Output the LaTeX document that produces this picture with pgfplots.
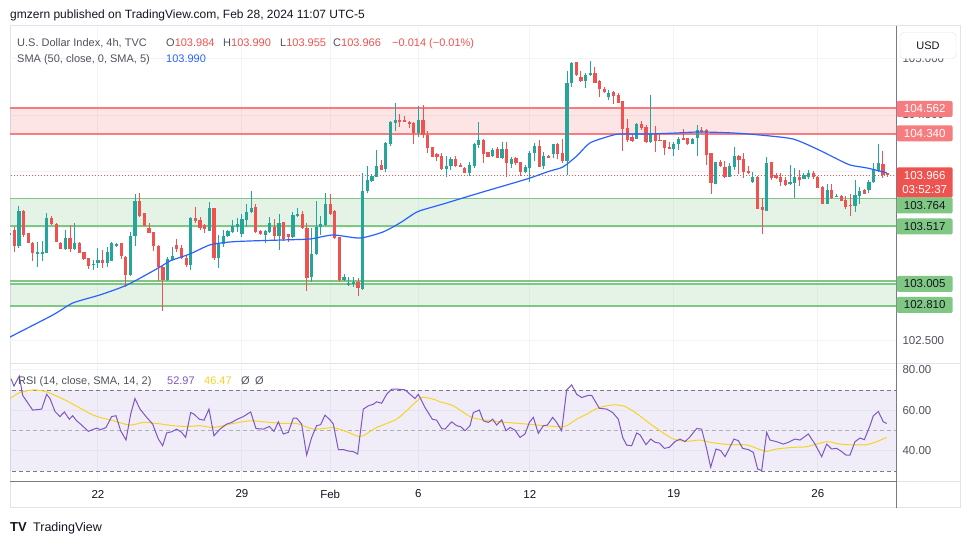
\documentclass[border=0pt]{standalone}
\usepackage{fontspec}
\setmainfont{Liberation Sans}
\usepackage{pgfplots}
\usepackage{pgfplotstable}
\pgfplotsset{compat=1.18}

\definecolor{upc}{HTML}{26A69A}
\definecolor{dnc}{HTML}{EF5350}
\definecolor{smac}{HTML}{2962FF}
\definecolor{rsic}{HTML}{7E57C2}
\definecolor{rsima}{HTML}{F5D426}
\definecolor{gridc}{HTML}{F0F3FA}
\definecolor{framec}{HTML}{E0E3EB}
\definecolor{axisc}{HTML}{787B86}
\definecolor{txt}{HTML}{131722}
\definecolor{legc}{HTML}{50535E}
\definecolor{redline}{HTML}{F77C80}
\definecolor{grnline}{HTML}{81C784}

% 4h candles, index 0 = first full candle on the left
\pgfplotstableread{
i o h l c
-1 103.438 103.576 103.394 103.453
0 103.482 103.512 103.290 103.343
1 103.343 103.697 103.326 103.650
2 103.650 103.659 103.423 103.438
3 103.453 103.460 103.364 103.370
4 103.370 103.375 103.211 103.276
5 103.276 103.379 103.152 103.287
6 103.276 103.387 103.211 103.290
7 103.281 103.630 103.275 103.591
8 103.591 103.609 103.526 103.532
9 103.535 103.545 103.379 103.379
10 103.370 103.374 103.310 103.317
11 103.317 103.482 103.305 103.408
12 103.408 103.526 103.290 103.317
13 103.311 103.544 103.305 103.370
14 103.370 103.372 103.278 103.281
15 103.290 103.292 103.222 103.225
16 103.231 103.232 103.134 103.163
17 103.172 103.217 103.128 103.187
18 103.187 103.320 103.143 103.217
19 103.217 103.305 103.143 103.187
20 103.187 103.335 103.158 103.290
21 103.211 103.372 103.208 103.364
22 103.340 103.365 103.330 103.358
23 103.364 103.366 103.230 103.252
24 103.246 103.250 102.981 103.084
25 103.084 103.467 103.075 103.429
26 103.429 103.801 103.343 103.739
27 103.739 103.815 103.600 103.609
28 103.630 103.632 103.518 103.520
29 103.506 103.541 103.453 103.458
30 103.467 103.468 103.296 103.343
31 103.343 103.345 103.031 103.158
32 103.158 103.170 102.768 103.040
33 103.040 103.246 103.034 103.231
34 103.222 103.335 103.217 103.252
35 103.350 103.400 103.290 103.311
36 103.320 103.350 103.225 103.231
37 103.231 103.261 103.152 103.172
38 103.172 103.594 103.128 103.591
39 103.585 103.689 103.541 103.565
40 103.571 103.600 103.482 103.497
41 103.526 103.535 103.453 103.491
42 103.473 103.733 103.470 103.680
43 103.680 103.682 103.217 103.237
44 103.237 103.438 103.149 103.364
45 103.364 103.488 103.335 103.429
46 103.429 103.482 103.423 103.473
47 103.467 103.571 103.458 103.518
48 103.512 103.585 103.467 103.535
49 103.447 103.624 103.423 103.582
50 103.571 103.712 103.512 103.641
51 103.638 103.830 103.630 103.674
52 103.683 103.712 103.453 103.467
53 103.476 103.480 103.438 103.447
54 103.435 103.482 103.370 103.473
55 103.467 103.600 103.458 103.547
56 103.512 103.585 103.394 103.429
57 103.429 103.621 103.305 103.541
58 103.556 103.557 103.388 103.400
59 103.447 103.448 103.379 103.423
60 103.417 103.644 103.408 103.615
61 103.609 103.680 103.600 103.621
62 103.621 103.653 103.491 103.497
63 103.497 103.541 102.945 103.055
64 103.069 103.497 103.025 103.270
65 103.270 103.739 103.261 103.512
66 103.506 103.606 103.438 103.535
67 103.526 103.813 103.518 103.712
68 103.712 103.801 103.615 103.624
69 103.650 103.659 103.408 103.414
70 103.423 103.425 103.025 103.040
71 103.040 103.093 103.034 103.069
72 102.992 103.063 102.986 103.016
73 103.010 103.069 102.975 103.022
74 103.025 103.054 102.898 102.966
75 102.957 103.984 102.951 103.827
76 103.827 104.048 103.815 103.925
77 103.919 103.978 103.910 103.960
78 103.954 104.190 103.953 104.051
79 104.057 104.107 104.013 104.013
80 104.025 104.261 103.992 104.249
81 104.240 104.450 104.228 104.441
82 104.426 104.609 104.361 104.456
83 104.456 104.509 104.397 104.447
84 104.456 104.491 104.440 104.447
85 104.441 104.450 104.382 104.420
86 104.432 104.441 104.243 104.338
87 104.338 104.580 104.302 104.456
88 104.456 104.588 104.293 104.323
89 104.323 104.358 104.167 104.211
90 104.214 104.220 104.125 104.131
91 104.155 104.161 104.093 104.131
92 104.137 104.161 104.013 104.019
93 104.019 104.137 103.948 104.051
94 104.048 104.125 104.013 104.110
95 104.110 104.137 104.037 104.051
96 104.057 104.072 104.043 104.048
97 104.034 104.043 103.984 103.990
98 103.990 104.087 103.963 104.057
99 104.051 104.249 104.028 104.243
100 104.234 104.441 104.211 104.279
101 104.279 104.284 104.078 104.155
102 104.170 104.175 104.125 104.131
103 104.137 104.205 104.131 104.190
104 104.196 104.214 104.116 104.122
105 104.122 104.258 104.110 104.199
106 104.199 104.258 103.954 104.072
107 104.066 104.131 104.028 104.110
108 104.122 104.131 104.057 104.078
109 104.081 104.087 103.963 103.998
110 103.998 104.057 103.990 104.043
111 104.028 104.184 103.904 104.161
112 104.161 104.249 104.096 104.225
113 104.225 104.279 104.037 104.043
114 104.048 104.175 104.022 104.137
115 104.137 104.146 104.116 104.128
116 104.161 104.243 104.122 104.243
117 104.243 104.249 104.110 104.155
118 104.166 104.284 104.072 104.093
119 104.093 104.889 103.969 104.780
120 104.780 104.972 104.745 104.957
121 104.966 104.968 104.848 104.854
122 104.839 104.892 104.795 104.801
123 104.801 104.869 104.742 104.854
124 104.860 104.978 104.845 104.869
125 104.869 104.922 104.780 104.786
126 104.801 104.810 104.662 104.727
127 104.730 104.751 104.700 104.703
128 104.656 104.721 104.638 104.700
129 104.706 104.715 104.597 104.671
130 104.677 104.697 104.603 104.609
131 104.624 104.625 104.181 104.376
132 104.382 104.464 104.264 104.284
133 104.308 104.323 104.264 104.270
134 104.287 104.426 104.284 104.420
135 104.420 104.447 104.367 104.382
136 104.391 104.411 104.255 104.264
137 104.264 104.677 104.258 104.338
138 104.338 104.402 104.175 104.273
139 104.279 104.323 104.270 104.273
140 104.279 104.284 104.146 104.211
141 104.220 104.258 104.196 104.199
142 104.199 104.258 104.140 104.240
143 104.240 104.302 104.190 104.287
144 104.299 104.376 104.279 104.287
145 104.293 104.299 104.234 104.240
146 104.243 104.293 104.240 104.287
147 104.302 104.411 104.137 104.367
148 104.367 104.397 104.346 104.352
149 104.367 104.376 104.057 104.146
150 104.161 104.162 103.801 103.901
151 103.889 104.087 103.889 104.081
152 104.087 104.102 104.043 104.048
153 104.043 104.093 103.948 103.954
154 103.954 104.072 103.948 104.048
155 104.043 104.214 104.013 104.137
156 104.137 104.146 103.978 104.102
157 104.110 104.169 103.945 103.998
158 104.004 104.048 103.978 103.984
159 103.910 103.992 103.901 103.954
160 103.954 103.956 103.668 103.668
161 103.689 103.763 103.444 103.659
162 103.653 104.131 103.650 104.078
163 104.087 104.088 103.925 103.948
164 103.969 103.990 103.933 103.939
165 103.954 103.984 103.872 103.904
166 103.925 103.954 103.872 103.880
167 103.889 104.057 103.886 103.904
168 103.904 104.028 103.768 103.951
169 103.954 104.013 103.872 103.925
170 103.933 103.984 103.930 103.966
171 103.954 104.013 103.933 103.992
172 103.992 104.004 103.939 103.948
173 103.954 103.960 103.857 103.857
174 103.866 103.872 103.712 103.712
175 103.712 103.895 103.712 103.836
176 103.836 103.886 103.756 103.768
177 103.777 103.801 103.777 103.786
178 103.786 103.792 103.742 103.742
179 103.748 103.786 103.665 103.689
180 103.703 103.801 103.609 103.697
181 103.697 103.925 103.644 103.792
182 103.786 103.866 103.712 103.827
183 103.836 103.842 103.801 103.801
184 103.836 103.925 103.813 103.904
185 103.904 104.078 103.901 104.022
186 104.007 104.240 103.998 104.072
187 104.072 104.181 103.948 103.969
188 103.984 103.990 103.955 103.966
}\candles

\tikzset{
  lg/.style={anchor=base west, inner sep=0pt, font=\fontsize{11}{13}\selectfont, text=legc},
  pbox/.style={anchor=west, minimum width=56pt, minimum height=16pt, inner sep=0pt,
    rounded corners=2pt, font=\fontsize{11.5}{13.5}\selectfont},
}
\pgfplotsset{
  candle/.style n args={2}{draw=none, mark=none, forget plot,
    error bars/.cd, y dir=both, y explicit, error mark=none,
    error bar style={draw=#1, line width=#2, line cap=butt}},
}

\begin{document}
\begin{tikzpicture}
\fill[white] (0pt,0pt) rectangle (970pt,545pt);
\draw[framec, line width=1pt] (10pt,519pt) rectangle (960pt,37pt);

% ---------- price pane ----------
\begin{axis}[
    at={(10pt,182pt)}, anchor=south west, scale only axis,
    width=886pt, height=336pt,
    xmin=-0.926, xmax=189.82, ymin=102.305, ymax=105.279,
    axis line style={draw=none},
    major tick length=0pt,
    xtick={18,49,68,87,111,142,173}, xticklabels={},
    ytick={102.5,103,103.5,104,104.5,105},
    yticklabels={102.500,,,,104.500,105.000},
    yticklabel pos=right,
    yticklabel style={anchor=west, xshift=3pt, font=\fontsize{11.5}{13}\selectfont, text=legc},
    grid=major, grid style={gridc, line width=1pt},
]
% zones
\addplot[draw=none, fill=dnc, fill opacity=0.15] coordinates {(-2,104.340) (192,104.340) (192,104.562) (-2,104.562)} -- cycle;
\addplot[draw=none, fill=grnline, fill opacity=0.2] coordinates {(-2,103.517) (192,103.517) (192,103.764) (-2,103.764)} -- cycle;
\addplot[draw=none, fill=grnline, fill opacity=0.2] coordinates {(-2,102.810) (192,102.810) (192,103.005) (-2,103.005)} -- cycle;
\addplot[redline, line width=2pt] coordinates {(-2,104.562) (192,104.562)};
\addplot[redline, line width=1pt] coordinates {(-2,104.340) (192,104.340)};
\addplot[redline, line width=1pt] coordinates {(-2,104.323) (192,104.323)};
\addplot[grnline, line width=1.2pt] coordinates {(-2,103.764) (192,103.764)};
\addplot[grnline, line width=1.2pt] coordinates {(-2,103.517) (192,103.517)};
\addplot[grnline, line width=1.2pt] coordinates {(-2,103.030) (192,103.030)};
\addplot[grnline, line width=1.2pt] coordinates {(-2,103.005) (192,103.005)};
\addplot[grnline, line width=1.2pt] coordinates {(-2,102.810) (192,102.810)};
% current price line
\addplot[dnc, line width=0.9pt, dash pattern=on 1pt off 2pt] coordinates {(-2,103.966) (192,103.966)};

% candles: wicks and bodies
\addplot[restrict expr to domain={\thisrow{c}-\thisrow{o}}{0:1}, candle={upc}{1pt}]
  table[x=i, y expr={(\thisrow{h}+\thisrow{l})/2}, y error expr={(\thisrow{h}-\thisrow{l})/2}] {\candles};
\addplot[restrict expr to domain={\thisrow{c}-\thisrow{o}}{0:1}, candle={upc}{3.2pt}]
  table[x=i, y expr={(\thisrow{o}+\thisrow{c})/2}, y error expr={abs(\thisrow{c}-\thisrow{o})/2}] {\candles};
\addplot[restrict expr to domain={\thisrow{o}-\thisrow{c}}{0.00001:1}, candle={dnc}{1pt}]
  table[x=i, y expr={(\thisrow{h}+\thisrow{l})/2}, y error expr={(\thisrow{h}-\thisrow{l})/2}] {\candles};
\addplot[restrict expr to domain={\thisrow{o}-\thisrow{c}}{0.00001:1}, candle={dnc}{3.2pt}]
  table[x=i, y expr={(\thisrow{o}+\thisrow{c})/2}, y error expr={abs(\thisrow{c}-\thisrow{o})/2}] {\candles};

% SMA 50
\addplot[smac, line width=1.2pt, smooth, tension=0.4] coordinates {
(-0.93,102.535) (8.3,102.73) (12.6,102.836) (18.4,102.907) (24.3,102.996) (31.4,103.155)
(33.5,103.208) (37.8,103.27) (42.1,103.35) (46.4,103.376) (50.7,103.385) (57.9,103.394)
(63.7,103.403) (68.6,103.438) (74.4,103.411) (79.4,103.465) (83.0,103.544) (86.7,103.642)
(90.1,103.686) (92.3,103.712) (95.9,103.757) (100.9,103.819) (108.2,103.907) (111.0,103.942)
(115.3,104.004) (118.1,104.04) (121.1,104.137) (123.9,104.252) (128.2,104.314) (130.4,104.332)
(136.8,104.332) (142.7,104.341) (147.6,104.35) (154.7,104.341) (160.5,104.323) (167.6,104.288)
(172.8,104.199) (176.3,104.128) (179.9,104.058) (183.6,104.031) (187.9,103.987)};
\end{axis}

% ---------- RSI pane ----------
\begin{axis}[
    at={(10pt,63pt)}, anchor=south west, scale only axis,
    width=886pt, height=117pt,
    xmin=-0.926, xmax=189.82, ymin=24.69, ymax=82.47,
    axis line style={draw=none},
    major tick length=0pt,
    xtick={18,49,68,87,111,142,173},
    xticklabels={22,29,Feb,6,12,19,26},
    xticklabel style={anchor=center, yshift=-12pt, font=\fontsize{11.5}{13}\selectfont, text=txt},
    ytick={40,60,80}, yticklabels={40.00,60.00,80.00},
    yticklabel pos=right,
    yticklabel style={anchor=west, xshift=3pt, font=\fontsize{11.5}{13}\selectfont, text=legc},
    grid=major, grid style={gridc, line width=1pt},
]
\addplot[draw=none, fill=rsic, fill opacity=0.1] coordinates {(-2,30) (192,30) (192,70) (-2,70)} -- cycle;
\addplot[axisc, line width=0.9pt, dash pattern=on 4pt off 3pt] coordinates {(-2,70) (192,70)};
\addplot[axisc!60, line width=0.9pt, dash pattern=on 4pt off 3pt] coordinates {(-2,50) (192,50)};
\addplot[axisc, line width=0.9pt, dash pattern=on 4pt off 3pt] coordinates {(-2,30) (192,30)};
% RSI moving average
\addplot[rsima, line width=1pt, smooth, tension=0.4] coordinates {
(-0.93,65.9) (1.23,68.9) (4.10,70.2) (6.97,69.2) (11.27,64.8) (17.01,57.7) (20.60,55.4)
(24.91,52.8) (27.78,54.1) (30.65,53.6) (34.24,52.5) (37.11,52.1) (39.98,52.5) (42.85,51.6)
(47.15,53.6) (50.74,54.9) (53.61,54.4) (57.92,53.6) (60.79,53.6) (64.38,50.8) (68.68,51.5)
(71.55,49.5) (74.06,47.2) (75.14,47.5) (78.01,51.6) (82.32,55.7) (85.19,61.5) (87.70,66.4)
(90.21,65.6) (91.65,64.3) (94.52,62.3) (98.47,56.6) (102.41,54.9) (106.0,54.1) (110.31,53.3)
(113.90,52.5) (117.48,52.0) (118.92,52.5) (121.07,55.7) (123.23,58.2) (125.38,61.0) (127.53,62.3)
(129.32,62.8) (131.48,62.0) (133.99,58.5) (136.50,54.1) (139.01,50.0) (141.88,45.9) (144.75,44.8)
(147.62,45.4) (149.78,44.3) (152.65,43.4) (154.80,43.1) (157.67,43.0) (159.82,41.3) (161.98,39.8)
(164.13,41.0) (167.72,41.8) (170.59,42.1) (174.89,44.6) (177.76,43.4) (180.63,43.0) (183.50,43.1)
(185.65,44.6) (187.81,46.7)};
% RSI 14
\addplot[rsic, line width=1pt] coordinates {
(-0.71,75.7) (-0.07,72.1) (1.08,77.0) (1.80,67.5) (3.95,60.2) (5.89,60.7) (6.97,68.0) (7.68,65.9)
(8.76,59.5) (9.84,57.0) (10.77,59.3) (11.85,55.7) (12.56,57.4) (13.43,54.9) (14.50,52.8) (15.94,49.7)
(17.73,51.3) (18.59,50.5) (19.74,51.6) (20.96,57.0) (21.89,57.4) (22.90,50.0) (24.05,45.4) (25.05,58.2)
(25.98,65.9) (27.06,60.7) (28.50,56.6) (29.79,53.3) (31.01,45.9) (31.94,42.6) (32.80,48.9) (33.88,49.5)
(34.95,50.8) (36.03,49.2) (36.89,46.7) (37.97,59.0) (38.69,58.2) (39.83,55.7) (40.84,55.2) (41.91,60.7)
(42.99,47.5) (44.28,50.8) (45.72,53.3) (46.79,54.1) (48.01,55.7) (49.31,57.0) (50.89,59.3) (52.03,51.1)
(53.61,50.8) (54.90,52.1) (55.91,49.7) (56.84,54.4) (57.92,48.4) (58.99,49.2) (60.07,56.2) (60.79,56.2)
(61.86,53.3) (62.94,38.0) (64.02,46.7) (65.09,52.5) (65.95,53.0) (66.89,57.7) (67.96,55.4) (68.68,53.3)
(69.76,40.7) (70.84,40.7) (71.91,40.0) (72.99,39.7) (73.92,38.5) (75.14,60.7) (76.22,62.3) (77.29,63.1)
(78.01,64.3) (79.09,63.6) (80.16,68.0) (81.24,70.5) (82.68,70.5) (84.11,70.2) (86.26,65.9) (86.98,68.0)
(88.42,61.5) (89.99,55.7) (90.93,55.2) (92.0,51.1) (92.73,50.8) (94.16,54.4) (95.24,52.5) (96.10,52.0)
(97.03,50.0) (98.11,52.5) (98.83,59.0) (100.12,60.2) (100.98,54.9) (102.06,54.1) (102.99,55.7) (103.85,52.8)
(104.93,55.4) (105.86,50.0) (106.72,51.6) (107.80,50.3) (108.87,46.7) (109.95,48.4) (110.88,54.1) (111.74,56.6)
(112.82,48.7) (113.90,52.5) (114.76,52.8) (115.91,56.6) (116.77,54.1) (117.84,50.0) (118.92,70.2) (120.00,72.6)
(121.07,68.0) (122.15,66.4) (123.58,67.5) (124.30,67.5) (125.95,61.1) (127.53,60.7) (128.82,59.0) (130.04,55.7)
(130.98,46.7) (131.84,42.9) (132.91,42.6) (133.99,48.9) (134.71,48.0) (136.00,43.1) (137.00,45.9) (137.94,44.3)
(138.87,43.9) (139.95,41.3) (141.02,41.8) (142.24,44.6) (143.32,45.9) (144.39,44.6) (145.47,47.0) (146.91,51.1)
(147.98,50.8) (149.06,41.0) (149.92,32.0) (151.07,41.0) (152.07,40.2) (153.01,37.2) (153.94,41.3) (154.94,45.9)
(155.88,45.1) (156.81,41.3) (158.03,40.7) (159.11,39.3) (160.04,31.1) (160.90,30.3) (161.98,49.2) (162.69,45.4)
(164.13,44.6) (165.57,43.4) (166.64,44.3) (168.08,45.9) (169.15,45.4) (170.95,48.4) (172.38,43.4) (173.82,37.2)
(174.89,43.4) (175.97,41.0) (177.05,41.3) (178.12,39.7) (179.05,38.0) (179.92,38.0) (180.99,44.6) (182.07,46.4)
(183.00,45.6) (184.22,52.5) (184.94,57.4) (186.02,59.5) (187.09,54.4) (187.81,53.6)};
\end{axis}

% separators
\draw[framec, line width=1pt] (10pt,181pt) -- (960pt,181pt);
\draw[axisc, line width=1pt] (10pt,63pt) -- (896pt,63pt);
\draw[framec, line width=1pt] (896pt,63pt) -- (960pt,63pt);
\draw[axisc, line width=1pt] (896pt,519pt) -- (896pt,37pt);

% price scale labels
\node[pbox, fill=redline, text=white] at (896.5pt,436pt) {104.562};
\node[pbox, fill=redline, text=white] at (896.5pt,411.7pt) {104.340};
\node[pbox, fill=dnc, text=white, minimum height=30.4pt, align=center] at (896.5pt,362.5pt) {103.966\\03:52:37};
\node[pbox, fill=grnline, text=txt] at (896.5pt,339.5pt) {103.764};
\node[pbox, fill=grnline, text=txt] at (896.5pt,318.5pt) {103.517};
\node[pbox, fill=grnline, text=txt] at (896.5pt,261pt) {103.005};
\node[pbox, fill=grnline, text=txt] at (896.5pt,240pt) {102.810};
\node[draw=framec, fill=white, rounded corners=4pt, minimum width=56pt, minimum height=26pt,
      inner sep=0pt, font=\fontsize{11}{13}\selectfont, text=txt] at (928pt,499.5pt) {USD};

% header and legends
\node[anchor=base west, inner sep=0pt, font=\fontsize{12}{14}\selectfont, text=txt] at (10pt,526.7pt)
  {gmzern published on TradingView.com, Feb 28, 2024 11:07 UTC-5};
\node[lg] at (17pt,498.3pt) {U.S. Dollar Index, 4h, TVC};
\node[lg] at (166pt,498.3pt) {O\textcolor{dnc}{103.984}};
\node[lg] at (223pt,498.3pt) {H\textcolor{dnc}{103.990}};
\node[lg] at (280pt,498.3pt) {L\textcolor{dnc}{103.955}};
\node[lg] at (333pt,498.3pt) {C\textcolor{dnc}{103.966}};
\node[lg, text=dnc] at (392pt,498.3pt) {−0.014 (−0.01\%)};
\node[lg] at (17pt,482pt) {SMA (50, close, 0, SMA, 5)};
\node[lg, text=smac] at (166pt,482pt) {103.990};
\node[lg] at (18pt,160.3pt) {RSI (14, close, SMA, 14, 2)};
\node[lg, text=rsic] at (167pt,160.3pt) {52.97};
\node[lg, text=rsima] at (204pt,160.3pt) {46.47};
\node[lg] at (241pt,160.3pt) {Ø};
\node[lg] at (255pt,160.3pt) {Ø};

% footer logo
\node[anchor=base west, inner sep=0pt, font=\fontsize{13}{15}\selectfont\bfseries, text=txt] at (10pt,13.5pt) {TV};
\node[anchor=base west, inner sep=0pt, font=\fontsize{12.5}{15}\selectfont, text=txt] at (33pt,13.5pt) {TradingView};

\pgfresetboundingbox
\path[use as bounding box] (0pt,0pt) rectangle (970pt,545pt);
\end{tikzpicture}
\end{document}
